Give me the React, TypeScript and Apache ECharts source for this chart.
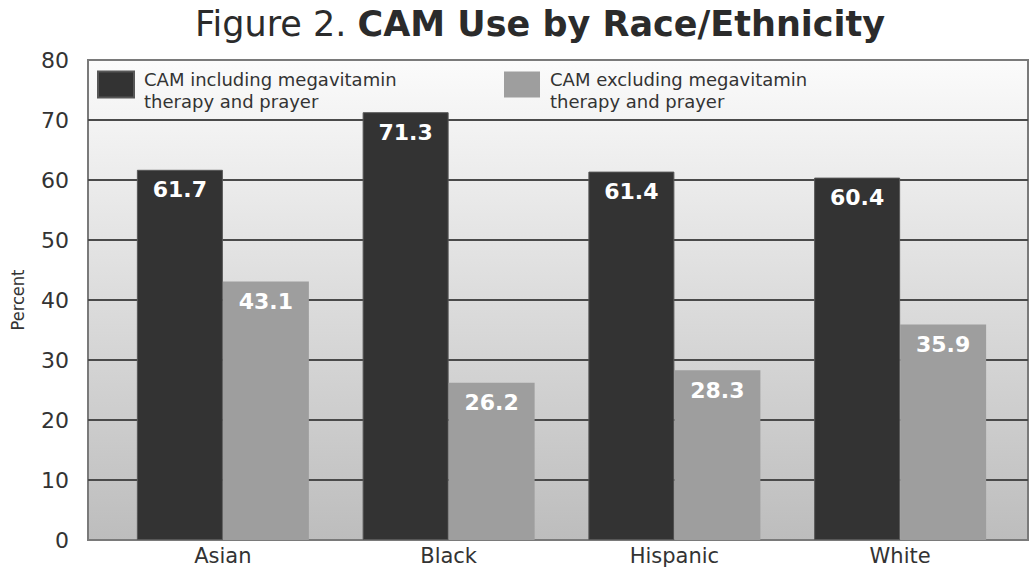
import React, { useEffect, useRef } from "react";
import * as echarts from "echarts";

const categories = ["Asian", "Black", "Hispanic", "White"];
const seriesNames = [
  "CAM including megavitamin\ntherapy and prayer",
  "CAM excluding megavitamin\ntherapy and prayer",
];
const includingValues = [61.7, 71.3, 61.4, 60.4];
const excludingValues = [43.1, 26.2, 28.3, 35.9];
const yTicks = { min: 0, max: 80, interval: 10 };

const FONT = "'DejaVu Sans', Verdana, sans-serif";

export default function App() {
  const ref = useRef<HTMLDivElement>(null);
  useEffect(() => {
    if (!ref.current) return;
    const chart = echarts.init(ref.current, undefined, { renderer: "svg" });
    const labelStyle = {
      show: true,
      position: "insideTop",
      distance: 9,
      color: "#ffffff",
      fontFamily: FONT,
      fontWeight: "bold",
      fontSize: 22,
    };
    const legendText = {
      fontFamily: FONT,
      fontSize: 18,
      lineHeight: 23,
      color: "#333333",
      padding: [0, 0, 0, 5],
      rich: {
        p: { fontFamily: FONT, fontSize: 18, lineHeight: 34, verticalAlign: "bottom", color: "#333333" },
        t: { fontFamily: FONT, fontSize: 18, lineHeight: 27, color: "#333333" },
      },
    };
    const legendFormatter = (name: string) => {
      const lines = name.split("\n");
      return "{p|" + lines[0] + "}\n{t|" + lines[1] + "}";
    };
    chart.setOption({
      animation: false,
      backgroundColor: "#ffffff",
      title: {
        left: 190,
        top: 1,
        text: "{a|Figure 2. }{b|CAM Use by Race/Ethnicity}",
        textStyle: {
          rich: {
            a: { fontFamily: FONT, fontSize: 35, fontWeight: "normal", color: "#2b2b2b" },
            b: { fontFamily: FONT, fontSize: 35, fontWeight: "bold", color: "#2b2b2b" },
          },
        },
      },
      legend: [
        {
          data: [seriesNames[0]],
          left: 97,
          top: 54,
          padding: 0,
          icon: "rect",
          itemWidth: 36,
          itemHeight: 26,
          textStyle: legendText,
          formatter: legendFormatter,
          selectedMode: false,
        },
        {
          data: [seriesNames[1]],
          left: 504,
          top: 54,
          padding: 0,
          icon: "rect",
          itemWidth: 36,
          itemHeight: 26,
          textStyle: legendText,
          formatter: legendFormatter,
          selectedMode: false,
        },
      ],
      grid: [
        { left: 110, right: 16, top: 60, bottom: 29, containLabel: false },
        {
          left: 84,
          right: 1,
          top: 60,
          bottom: 29,
          show: true,
          z: -1,
          borderColor: "#7a7a7a",
          borderWidth: 2,
          backgroundColor: new echarts.graphic.LinearGradient(0, 0, 0, 1, [
            { offset: 0, color: "#fbfbfb" },
            { offset: 1, color: "#bdbdbd" },
          ]),
        },
      ],
      xAxis: [
        {
          type: "category",
          gridIndex: 0,
          data: categories,
          axisLine: { show: false },
          axisTick: { show: false },
          axisLabel: { fontFamily: FONT, fontSize: 21, color: "#333333", margin: 5 },
        },
        { type: "value", gridIndex: 1, show: false, min: 0, max: 1 },
      ],
      yAxis: [
        { type: "value", gridIndex: 0, min: yTicks.min, max: yTicks.max, interval: yTicks.interval, show: false },
        {
          type: "value",
          gridIndex: 1,
          min: yTicks.min,
          max: yTicks.max,
          interval: yTicks.interval,
          name: "Percent",
          nameLocation: "middle",
          nameRotate: 90,
          nameGap: 62,
          nameTextStyle: { fontFamily: "'DejaVu Sans Condensed', 'DejaVu Sans', sans-serif", fontSize: 18, color: "#333333" },
          axisLine: { show: false },
          axisTick: { show: false },
          axisLabel: { fontFamily: FONT, fontSize: 22, color: "#333333", margin: 19 },
          splitLine: {
            show: true,
            lineStyle: {
              width: 2,
              color: ["#7a7a7a", "#4a4a4a", "#4a4a4a", "#4a4a4a", "#4a4a4a", "#4a4a4a", "#4a4a4a", "#4a4a4a", "#7a7a7a"],
            },
          },
        },
      ],
      series: [
        {
          name: seriesNames[0],
          type: "bar",
          xAxisIndex: 0,
          yAxisIndex: 0,
          data: includingValues,
          barWidth: 86,
          barGap: "0%",
          itemStyle: { color: "#333333", borderColor: "#575757", borderWidth: 1 },
          label: labelStyle,
        },
        {
          name: seriesNames[1],
          type: "bar",
          xAxisIndex: 0,
          yAxisIndex: 0,
          data: excludingValues,
          barWidth: 86,
          barGap: "0%",
          itemStyle: { color: "#9e9e9e" },
          label: labelStyle,
        },
      ],
    });
    return () => chart.dispose();
  }, []);
  return <div ref={ref} style={{ width: 1029, height: 569, position: "absolute", left: 0, top: 0 }} />;
}
